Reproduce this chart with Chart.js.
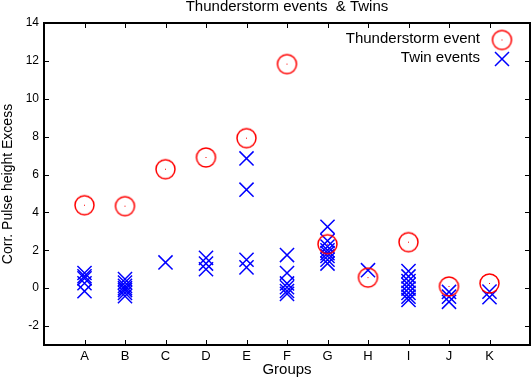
<!DOCTYPE html>
<html>
<head>
<meta charset="utf-8">
<script src="https://cdn.jsdelivr.net/npm/chart.js@4"></script>
<style>
  html, body { margin: 0; padding: 0; background: #fff; overflow: hidden; }
  #wrap { width: 532px; height: 380px; }
</style>
</head>
<body>
<div id="wrap"><canvas id="myScatterChart"></canvas></div>
<script>
// 그룹 (x축 카테고리)
const groups = ['A', 'B', 'C', 'D', 'E', 'F', 'G', 'H', 'I', 'J', 'K'];

// Thunderstorm event 값 (그룹당 1개)
const stormValues = [4.38, 4.33, 6.28, 6.9, 7.92, 11.83, 2.32, 0.56, 2.43, 0.09, 0.25];

// Twin events 값 (그룹별)
const twinValues = [
  [0.8, 0.63, 0.52, 0.26, -0.16],
  [0.48, 0.3, 0.12, 0.0, -0.1, -0.25, -0.42],
  [1.36],
  [1.6, 1.3, 1.0],
  [6.85, 5.2, 1.5, 1.1],
  [1.75, 0.8, 0.25, 0.05, -0.15, -0.3],
  [3.24, 2.5, 2.2, 2.0, 1.85, 1.7, 1.5, 1.3],
  [0.95],
  [0.9, 0.62, 0.38, 0.18, -0.02, -0.25, -0.45, -0.62],
  [-0.2, -0.45, -0.72],
  [-0.18, -0.48]
];

// y축 눈금
const yTicks = [-2, 0, 2, 4, 6, 8, 10, 12, 14];

const FONT = '"Liberation Sans", Arial, sans-serif';

// 원 + 가운데 점 마커
function makeCircleMarker() {
  const c = document.createElement('canvas');
  c.width = 23; c.height = 23;
  const g = c.getContext('2d');
  g.strokeStyle = 'rgb(255,0,0)';
  g.lineWidth = 1.5;
  g.beginPath();
  g.arc(11.5, 11.5, 9.5, 0, Math.PI * 2);
  g.stroke();
  g.fillStyle = 'rgb(255,0,0)';
  g.fillRect(11, 11, 1, 1);
  return c;
}
const circleMarker = makeCircleMarker();

const stormData = stormValues.map((v, i) => ({ x: i + 1, y: v }));
const twinData = [];
twinValues.forEach((list, i) => list.forEach(v => twinData.push({ x: i + 1, y: v })));

// 프레임, 안쪽 눈금, 제목, 범례 그리기
const framePlugin = {
  id: 'frame',
  afterDraw(chart) {
    const { ctx, chartArea: a, scales } = chart;
    const xs = scales.x, ys = scales.y;
    ctx.save();
    ctx.strokeStyle = '#000';
    ctx.lineWidth = 1;
    ctx.beginPath();
    groups.forEach((g, i) => {
      const px = Math.round(xs.getPixelForValue(i + 1)) + 0.5;
      ctx.moveTo(px, a.bottom); ctx.lineTo(px, a.bottom - 5);
      ctx.moveTo(px, a.top); ctx.lineTo(px, a.top + 5);
    });
    yTicks.forEach(v => {
      const py = Math.round(ys.getPixelForValue(v)) + 0.5;
      ctx.moveTo(a.left, py); ctx.lineTo(a.left + 5, py);
      ctx.moveTo(a.right, py); ctx.lineTo(a.right - 5, py);
    });
    ctx.stroke();
    ctx.lineWidth = 2;
    ctx.strokeRect(a.left, a.top, a.right - a.left, a.bottom - a.top);

    // 제목
    ctx.fillStyle = '#000';
    ctx.font = '15px ' + FONT;
    ctx.textAlign = 'center';
    ctx.textBaseline = 'middle';
    ctx.fillText('Thunderstorm events  & Twins', (a.left + a.right) / 2, 7);

    // 범례
    ctx.textAlign = 'right';
    const ds = chart.data.datasets;
    ctx.fillText(ds[0].label, 480, 39);
    ctx.fillText(ds[1].label, 480, 58);
    ctx.drawImage(circleMarker, 502 - 11.5, 40 - 11.5);
    ctx.strokeStyle = 'rgb(0,0,255)';
    ctx.lineWidth = 1.5;
    ctx.beginPath();
    ctx.moveTo(495, 52); ctx.lineTo(509, 66);
    ctx.moveTo(509, 52); ctx.lineTo(495, 66);
    ctx.stroke();
    ctx.restore();
  }
};

const scatterData = {
  datasets: [{
    label: 'Thunderstorm event',
    data: stormData,
    pointStyle: circleMarker,
    pointRadius: 10,
    showLine: false
  }, {
    label: 'Twin events',
    data: twinData,
    pointStyle: 'crossRot',
    pointRadius: 10,
    borderColor: 'rgb(0,0,255)',
    backgroundColor: 'rgb(0,0,255)',
    pointBorderWidth: 1.5,
    showLine: false
  }]
};

const scatterOptions = {
  responsive: true,
  maintainAspectRatio: false,
  animation: false,
  events: [],
  layout: { autoPadding: false, padding: { top: 23, right: 2, left: 0, bottom: 0 } },
  plugins: {
    legend: { display: false },
    title: { display: false },
    tooltip: { enabled: false }
  },
  scales: {
    x: {
      type: 'linear',
      min: 0,
      max: 12,
      grid: { display: false, drawTicks: false },
      border: { display: false },
      ticks: {
        stepSize: 1,
        autoSkip: false,
        maxRotation: 0,
        padding: 4,
        color: '#000',
        font: { family: FONT, size: 13 },
        callback: v => groups[v - 1] || ''
      },
      title: {
        display: true,
        text: 'Groups',
        color: '#000',
        font: { family: FONT, size: 15 },
        padding: { top: 0, bottom: 1 }
      },
      afterFit: s => { s.height = 35; s.paddingLeft = 0; s.paddingRight = 0; }
    },
    y: {
      min: -3,
      max: 14,
      grid: { display: false, drawTicks: false },
      border: { display: false },
      ticks: {
        stepSize: 2,
        includeBounds: false,
        padding: 5,
        color: '#000',
        font: { family: FONT, size: 12 }
      },
      title: {
        display: true,
        text: 'Corr. Pulse height Excess',
        color: '#000',
        font: { family: FONT, size: 14 },
        padding: { top: 0, bottom: 0 }
      },
      afterFit: s => { s.width = 44; s.paddingTop = 0; s.paddingBottom = 0; }
    }
  }
};

const ctx = document.getElementById('myScatterChart').getContext('2d');
const myScatterChart = new Chart(ctx, {
  type: 'scatter',
  data: scatterData,
  options: scatterOptions,
  plugins: [framePlugin]
});
</script>
</body>
</html>
